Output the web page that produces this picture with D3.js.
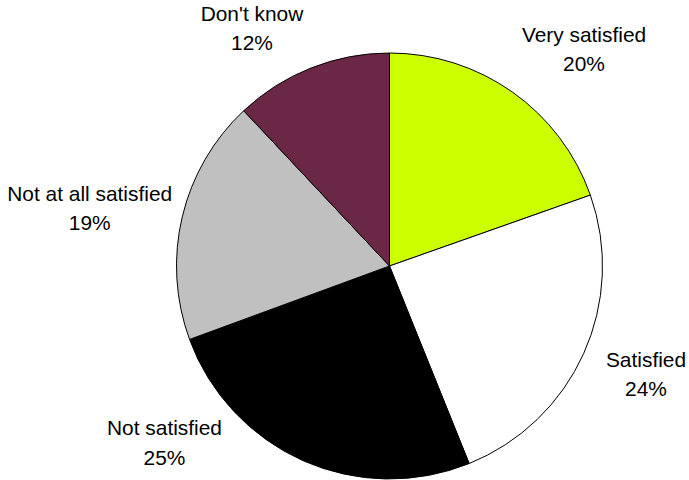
<!DOCTYPE html>
<html>
<head>
<meta charset="utf-8">
<script src="https://cdn.jsdelivr.net/npm/d3@7"></script>
<style>
  html, body { margin: 0; padding: 0; background: #fff; }
  svg { display: block; }
</style>
</head>
<body>
<svg id="chart" width="689" height="480"></svg>
<script>
// Data (clockwise from 12 o'clock)
const categories = ["Very satisfied", "Satisfied", "Not satisfied", "Not at all satisfied", "Don't know"];
const values = [19.6, 24.3, 25.5, 18.6, 12.0];
const percentLabels = ["20%", "24%", "25%", "19%", "12%"];
const colors = ["#CCFF00", "#FFFFFF", "#000000", "#C0C0C0", "#6B2846"];

// Layout
const W = 689, H = 480;
const cx = 389.5, cy = 266, R = 213;
// label block centers (x) and first-line baselines (y)
const labelAnchors = [[584, 41.5], [646, 366.7], [164.5, 435], [89.7, 200.7], [252, 20.7]];
const lineGap = 29.5;

const svg = d3.select("#chart");
const g = svg.append("g").attr("transform", `translate(${cx},${cy})`);

const pie = d3.pie().sort(null).value(d => d.value);
const arc = d3.arc().innerRadius(0).outerRadius(R);

const data = categories.map((c, i) => ({ name: c, value: values[i], color: colors[i], pct: percentLabels[i] }));

g.selectAll("path.slice")
  .data(pie(data))
  .join("path")
  .attr("class", "slice")
  .attr("d", arc)
  .attr("fill", d => d.data.color)
  .attr("stroke", "#000")
  .attr("stroke-width", 1)
  .attr("stroke-linejoin", "round");

const labels = svg.selectAll("text.lbl")
  .data(data)
  .join("text")
  .attr("class", "lbl")
  .attr("text-anchor", "middle")
  .attr("font-family", "'Liberation Sans', Arial, Helvetica, sans-serif")
  .attr("font-size", "20.9px")
  .attr("fill", "#000");

labels.append("tspan")
  .attr("x", (d, i) => labelAnchors[i][0])
  .attr("y", (d, i) => labelAnchors[i][1])
  .text(d => d.name);
labels.append("tspan")
  .attr("x", (d, i) => labelAnchors[i][0])
  .attr("y", (d, i) => labelAnchors[i][1] + lineGap)
  .text(d => d.pct);
</script>
</body>
</html>
